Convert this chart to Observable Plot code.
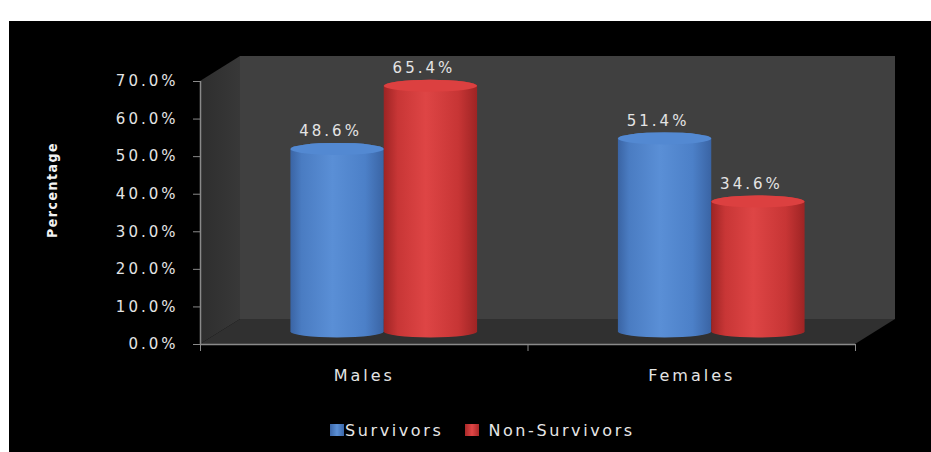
<!DOCTYPE html>
<html>
<head>
<meta charset="utf-8">
<script src="https://cdn.jsdelivr.net/npm/d3@7"></script>
<script src="https://cdn.jsdelivr.net/npm/@observablehq/plot@0.6"></script>
<style>
  html, body { margin: 0; padding: 0; background: #ffffff; }
  #frame { position: absolute; left: 9px; top: 21px; width: 922px; height: 431px; background: #000; overflow: hidden; }
  #chart svg text { letter-spacing: 3px; }
  #legend { position: absolute; left: 321px; top: 399px; height: 20px; display: flex; align-items: center;
            font-family: "DejaVu Sans", sans-serif; font-size: 16px; letter-spacing: 2.6px; color: #e6e6e6; }
  #legend .sw { width: 14px; height: 12px; }
  #legend .item { display: flex; align-items: center; }
</style>
</head>
<body>
<div id="frame">
  <div id="chart"></div>
  <div id="legend"></div>
</div>
<script>
// ---- data ----
const categories = ["Males", "Females"];
const seriesNames = ["Survivors", "Non-Survivors"];
const survivors = [0.486, 0.514];
const nonSurvivors = [0.654, 0.346];
const yTicks = [0, 0.1, 0.2, 0.3, 0.4, 0.5, 0.6, 0.7];
const yTitle = "Percentage";

const seriesValues = [survivors, nonSurvivors];
const bodyFill = ["url(#gBlue)", "url(#gRed)"];
const capFill = ["#5389d2", "#dc4040"];
const swatch = ["linear-gradient(90deg,#3b66a8,#5b90d6,#3b66a8)", "linear-gradient(90deg,#a82828,#e04646,#a82828)"];

const BW = 0.285;           // bar width in band units
const DX = 40, DY = -25;    // 3D depth offset (back wall)
const rows = categories.flatMap((c, i) => seriesNames.map((s, j) => ({
  cat: c, s, j, v: seriesValues[j][i],
  x1: i + 0.5 + (j - 1) * BW, x2: i + 0.5 + j * BW
})));

const fmt = d3.format(".1%");
const textColor = "#e4e4e4";
const axisColor = "#8a8a8a";

const plot = Plot.plot({
  width: 922, height: 380,
  marginLeft: 191, marginRight: 76, marginTop: 60, marginBottom: 57,
  style: { background: "transparent", color: textColor, fontFamily: "DejaVu Sans, sans-serif" },
  x: { type: "linear", domain: [0, 2], axis: null },
  y: { domain: [0, 0.7], axis: null },
  color: { type: "identity" },
  marks: [
    // cylinder bodies
    Plot.rect(rows, { x1: "x1", x2: "x2", y1: 0, y2: "v", dx: DX / 2, dy: DY / 2,
      fill: d => bodyFill[d.j], rx: 999, ry: 6, insetTop: -6, insetBottom: -6 }),
    // cylinder caps
    Plot.rect(rows, { x1: "x1", x2: "x2", y1: "v", y2: "v", dx: DX / 2, dy: DY / 2,
      fill: d => capFill[d.j], rx: 999, ry: 6, insetTop: -6, insetBottom: -6 }),
    // value labels
    Plot.text(rows, { x: d => (d.x1 + d.x2) / 2, y: "v", text: d => fmt(d.v),
      dx: DX / 2 - 7, dy: DY / 2 - 18, fill: textColor, fontSize: 15 }),
    // axes lines
    Plot.ruleX([0], { y1: 0, y2: 0.7, stroke: axisColor, strokeWidth: 1.5 }),
    Plot.ruleY([0], { x1: 0, x2: 2, stroke: axisColor, strokeWidth: 1.5 }),
    Plot.axisY({ ticks: yTicks, tickFormat: fmt, tickSize: 7, tickPadding: 15, stroke: axisColor,
      fill: textColor, fontSize: 15, label: null }),
    Plot.axisX({ ticks: [0, 1, 2], tickFormat: () => "", tickSize: 7, stroke: axisColor, label: null }),
    Plot.text(categories, { x: (d, i) => i + 0.5, y: 0, text: d => d, dy: 31, dx: 0, fill: textColor,
      fontSize: 16 }),
    Plot.text([yTitle], { frameAnchor: "left", dx: -148, dy: -23, rotate: -90, text: d => d,
      textAnchor: "middle", fill: "#f2f2f2", fontSize: 14, fontWeight: "bold",
      fontFamily: "DejaVu Sans Condensed, DejaVu Sans, sans-serif" })
  ]
});

// gradients + 3D walls, positioned through the plot's scales
const svg = d3.select(plot);
const xs = plot.scale("x"), ys = plot.scale("y");
const X0 = xs.apply(0), X2 = xs.apply(2), Y0 = ys.apply(0), Y7 = ys.apply(0.7);

const defs = svg.insert("defs", ":first-child");
function grad(id, stops) {
  const g = defs.append("linearGradient").attr("id", id).attr("x1", 0).attr("x2", 1).attr("y1", 0).attr("y2", 0);
  stops.forEach(([o, c]) => g.append("stop").attr("offset", o).attr("stop-color", c));
}
grad("gBlue", [[0, "#3a64a4"], [0.12, "#4a7cc2"], [0.45, "#5a8fd6"], [0.8, "#4c80c8"], [1, "#3a64a4"]]);
grad("gRed", [[0, "#9e2424"], [0.15, "#c83636"], [0.45, "#de4545"], [0.8, "#c73535"], [1, "#9e2424"]]);
grad("gLeft", [[0, "#2e2e2e"], [1, "#383838"]]);

const walls = svg.insert("g", "defs + *").attr("aria-label", "walls");
walls.append("polygon").attr("fill", "#303030")
  .attr("points", [[X0, Y0], [X0 + DX, Y0 + DY], [X2 + DX, Y0 + DY], [X2, Y0]].join(" "));
walls.append("rect").attr("fill", "#404040")
  .attr("x", X0 + DX).attr("y", Y7 + DY).attr("width", X2 - X0).attr("height", Y0 - Y7);
walls.append("polygon").attr("fill", "url(#gLeft)")
  .attr("points", [[X0, Y7], [X0 + DX, Y7 + DY], [X0 + DX, Y0 + DY], [X0, Y0]].join(" "));

// the rotated axis title uses tighter spacing
svg.selectAll("text").filter(function () { return this.textContent === yTitle; })
  .style("letter-spacing", "1.5px");

document.getElementById("chart").appendChild(plot);

// legend
const legend = d3.select("#legend");
seriesNames.forEach((s, j) => {
  const it = legend.append("div").attr("class", "item").style("margin-right", j === 0 ? "22px" : "0");
  it.append("div").attr("class", "sw").style("background", swatch[j]).style("margin-right", j === 0 ? "1px" : "9px");
  it.append("span").text(s);
});
</script>
</body>
</html>
